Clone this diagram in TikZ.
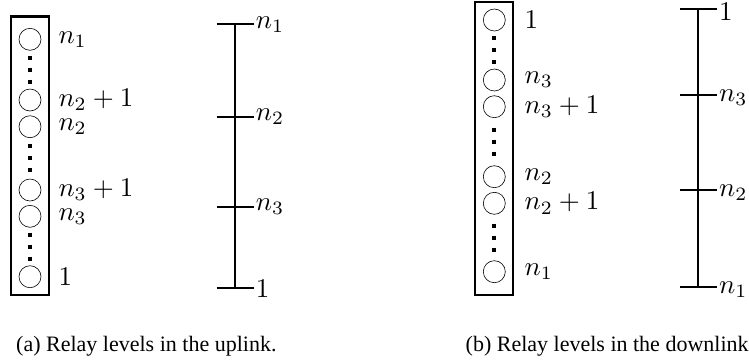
\documentclass[tikz,border=0pt]{standalone}
\usepackage{amsmath}
\usepackage{fontspec}
\setmainfont{Liberation Serif}
\usepackage{tikz}
\usetikzlibrary{calc}

\begin{document}
\begin{tikzpicture}[x=1pt, y=-1pt,
  relay/.style={draw, circle, line width=0.6pt, minimum size=22pt, inner sep=0pt},
  lvl/.style={anchor=west, inner sep=0pt, scale=2.7},
  dotline/.style={line width=4pt, dash pattern=on 4pt off 8pt},
  axis/.style={line width=1.8pt},
  captext/.style={anchor=base west, inner sep=0pt, font=\fontsize{22}{26}\selectfont}]
\useasboundingbox (0,0) rectangle (749,360);

% Uplink relays
\draw[line width=2.3pt] (11,16.5) rectangle (49,295);
\foreach \n/\y/\t in {u1/39.3/n_1, u2/100/n_2+1, u3/126.7/n_2, u4/190/n_3+1, u5/216.3/n_3, u6/276.7/1}{
  \node[relay] (\n) at (30,\y) {};
  \node[lvl] (\n l) at (58,\y) {$\t$};
}
\foreach \a/\b in {u1/u2, u3/u4, u5/u6}
  \draw[dotline] ($(\a)!0.5!(\b)$) +(0,-14) -- +(0,14);

% Uplink levels
\draw[axis] (235,24.3) coordinate(ut) -- (235,288.3) coordinate(ub);
\foreach \y/\t in {24.3/n_1, 116.7/n_2, 206.7/n_3, 288.3/1}
  \draw[axis] (216.5,\y) -- (253.5,\y) node[lvl] {$\t$};

% Downlink relays
\draw[line width=2.3pt] (475.2,2.2) rectangle (513.2,295);
\foreach \n/\y/\t in {d1/20/1, d2/80/n_3, d3/106.7/n_3+1, d4/176.7/n_2, d5/203.3/n_2+1, d6/271.7/n_1}{
  \node[relay] (\n) at (494.3,\y) {};
  \node[lvl] (\n l) at (524,\y) {$\t$};
}
\foreach \a/\b in {d1/d2, d3/d4, d5/d6}
  \draw[dotline] ($(\a)!0.5!(\b)$) +(0,-14) -- +(0,14);

% Downlink levels
\draw[axis] (698.3,9.3) coordinate(dt) -- (698.3,287.3) coordinate(db);
\foreach \y/\t in {9.3/1, 95/n_3, 190/n_2, 287.3/n_1}
  \draw[axis] (679.8,\y) -- (716.8,\y) node[lvl, yshift=-1pt] {$\t$};

% Captions
\node[captext] (capa) at (16,351) {(a) Relay levels in the uplink.};
\node[captext] (capb) at (465.5,351) {(b) Relay levels in the downlink};
\end{tikzpicture}
\end{document}
